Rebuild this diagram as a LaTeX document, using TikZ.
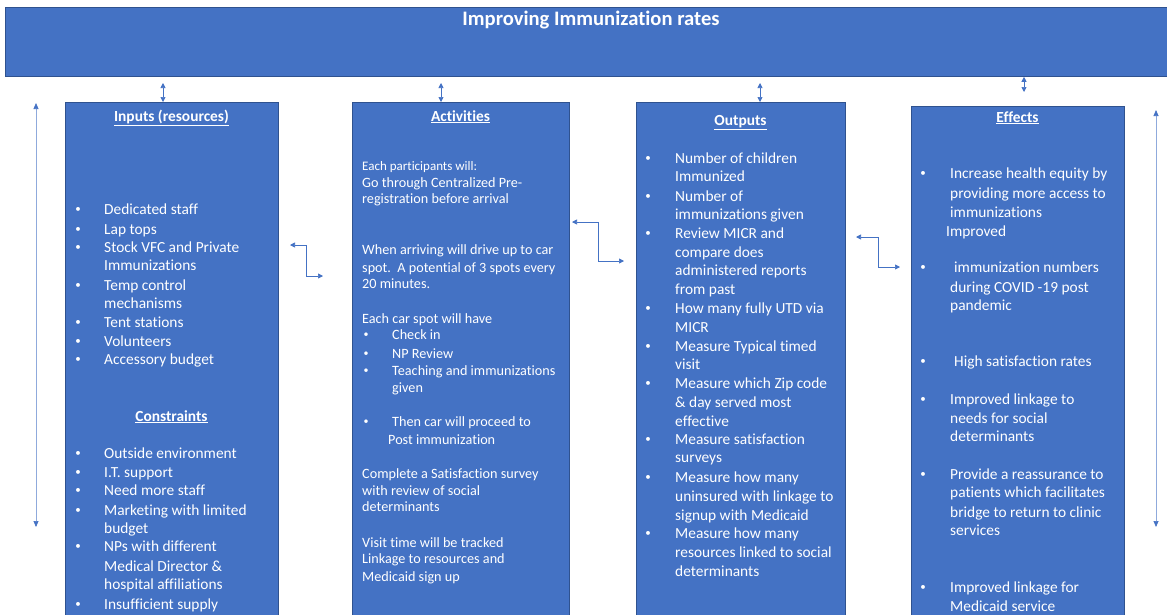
\documentclass[tikz,border=0pt]{standalone}
\usepackage{fontspec}
\setmainfont{Carlito}[Ligatures=NoCommon]
\usetikzlibrary{positioning, arrows.meta}

\definecolor{boxblue}{HTML}{4472C4}
\definecolor{boxedge}{HTML}{2F528F}
\definecolor{lineblue}{HTML}{8FAADC}

\begin{document}
\begin{tikzpicture}
  [x=1pt,y=-1pt,
   basicbox/.style={draw=boxedge,fill=boxblue,rectangle,inner sep=0pt,line width=0.8pt,anchor=north west},
   headtext/.style={text=white,inner sep=0pt,anchor=base,font=\bfseries\fontsize{15.4}{18}\selectfont},
   bodytext/.style={text=white,inner sep=0pt,anchor=west,text height=12pt,text depth=2pt,font=\fontsize{15.4}{18.7}\selectfont},
   acttext/.style={bodytext,font=\fontsize{14.2}{17}\selectfont},
   dotmark/.style={bodytext,anchor=center,text height=10.5pt,text depth=3.5pt,font=\fontsize{11}{11}\selectfont},
   linkarrow/.style={<->,>={Triangle[length=5pt,width=5pt]},draw=boxblue,line width=0.7pt},
   sidearrow/.style={<->,>={Triangle[length=6pt,width=5pt,color=boxblue]},draw=lineblue,line width=0.7pt}]
  \clip (0,0) rectangle (1167,614);

  \node (titlebar) at (5,7) [basicbox,minimum width=1175,minimum height=69] {};
  \node (titletext) at (591,25) [headtext,font=\bfseries\fontsize{20.6}{24}\selectfont] {Improving Immunization rates};

  \node (inputsbox) at (65,102) [basicbox,minimum width=213,minimum height=530] {};
  \node (activitiesbox) at (352,102) [basicbox,minimum width=217,minimum height=530] {};
  \node (outputsbox) at (636,102) [basicbox,minimum width=209,minimum height=530] {};
  \node (effectsbox) at (911,106) [basicbox,minimum width=213,minimum height=530] {};

  \node (inputshead) at (171.5,121) [headtext] {\underline{Inputs (resources)}};
  \node (constraintshead) at (171.5,421) [headtext] {\underline{Constraints}};
  \node (activitieshead) at (460.5,121) [headtext] {\underline{Activities}};
  \node (outputshead) at (740.5,125) [headtext] {\underline{Outputs}};
  \node (effectshead) at (1017.5,122) [headtext] {\underline{Effects}};

  % inputs and constraints
  \foreach \y/\t in {209/Dedicated staff, 229/Lap tops, 247/Stock VFC and Private, 265/Immunizations,
      285/Temp control, 303/mechanisms, 322/Tent stations, 341/Volunteers, 359/Accessory budget,
      453/Outside environment, 472/I.T. support, 490/Need more staff, 510/Marketing with limited,
      528/budget, 546/NPs with different, 566/{Medical Director \&}, 584/hospital affiliations,
      604/Insufficient supply}
    \node (inputsline\y) at (104,\y) [bodytext] {\t};
  \foreach \y in {209,229,247,285,322,341,359,453,472,490,510,546,604}
    \node (inputsdot\y) at (78,\y) [dotmark] {\textbullet};

  % activities
  \node (activitiesintro) at (362,165) [acttext,font=\fontsize{13}{16}\selectfont] {Each participants will:};
  \foreach \y/\t in {182/Go through Centralized Pre-, 198/registration before arrival,
      249/When arriving will drive up to car, 267/{spot.\ \ A potential of 3 spots every}, 283/20 minutes.,
      318/Each car spot will have, 473/Complete a Satisfaction survey, 490/with review of social,
      506/determinants, 542/Visit time will be tracked, 558/Linkage to resources and, 576/Medicaid sign up}
    \node (activitiesline\y) at (362,\y) [acttext] {\t};
  \foreach \y/\t in {334/Check in, 353/NP Review, 370/Teaching and immunizations, 387/given,
      421/Then car will proceed to}
    \node (activitiessub\y) at (392,\y) [acttext] {\t};
  \node (activitiespost) at (388,439) [acttext] {Post immunization};
  \foreach \y in {334,353,370,421}
    \node (activitiesdot\y) at (366,\y) [dotmark,font=\fontsize{10}{10}\selectfont] {\textbullet};

  % outputs
  \foreach \y/\t in {158/Number of children, 176/Immunized, 196/Number of, 214/immunizations given,
      233/Review MICR and, 252/compare does, 270/administered reports, 289/from past,
      308/How many fully UTD via, 327/MICR, 346/Measure Typical timed, 364/visit,
      383/Measure which Zip code, 402/{\& day served most}, 421/effective, 439/Measure satisfaction,
      457/surveys, 477/Measure how many, 496/uninsured with linkage to, 515/signup with Medicaid,
      533/Measure how many, 552/resources linked to social, 571/determinants}
    \node (outputsline\y) at (675,\y) [bodytext] {\t};
  \foreach \y in {158,196,233,308,346,383,439,477,533}
    \node (outputsdot\y) at (648,\y) [dotmark] {\textbullet};

  % effects
  \foreach \y/\t in {173/Increase health equity by, 193/providing more access to, 212/immunizations,
      287/during COVID -19 post, 305/pandemic, 399/Improved linkage to, 418/needs for social,
      436/determinants, 474/Provide a reassurance to, 492/patients which facilitates,
      512/bridge to return to clinic, 530/services, 587/Improved linkage for, 606/Medicaid service}
    \node (effectsline\y) at (950,\y) [bodytext] {\t};
  \node (effectsimproved) at (946,231) [bodytext] {Improved};
  \node (effectsnumbers) at (954,267) [bodytext] {immunization numbers};
  \node (effectssatisfaction) at (954,361) [bodytext] {High satisfaction rates};
  \foreach \y in {173,267,361,399,474,587}
    \node (effectsdot\y) at (923,\y) [dotmark] {\textbullet};

  % links to the title bar
  \coordinate (inputsup) at (163,83);
  \coordinate (activitiesup) at (441,83);
  \coordinate (outputsup) at (760,83);
  \coordinate (effectsdown) at (1024,92);
  \draw [linkarrow] (inputsup) -- (inputsup |- inputsbox.north);
  \draw [linkarrow] (activitiesup) -- (activitiesup |- activitiesbox.north);
  \draw [linkarrow] (outputsup) -- (outputsup |- outputsbox.north);
  \draw [linkarrow] (effectsdown |- titlebar.south) -- (effectsdown);

  % links between columns
  \coordinate (inputslink) at (290,245);
  \coordinate (activitiesin) at (323,276);
  \coordinate (activitieslink) at (572,222);
  \coordinate (outputsin) at (624,261);
  \coordinate (outputslink) at (856,237);
  \coordinate (effectsin) at (900,267);
  \draw [linkarrow] (inputslink) -- ++(16,0) |- (activitiesin);
  \draw [linkarrow] (activitieslink) -- ++(26,0) |- (outputsin);
  \draw [linkarrow] (outputslink) -- ++(22,0) |- (effectsin);

  \coordinate (leftspantop) at (36,103);
  \coordinate (leftspanbottom) at (36,527);
  \coordinate (rightspantop) at (1156,110);
  \coordinate (rightspanbottom) at (1156,527);
  \draw [sidearrow] (leftspantop) -- (leftspanbottom);
  \draw [sidearrow] (rightspantop) -- (rightspanbottom);
\end{tikzpicture}
\end{document}
